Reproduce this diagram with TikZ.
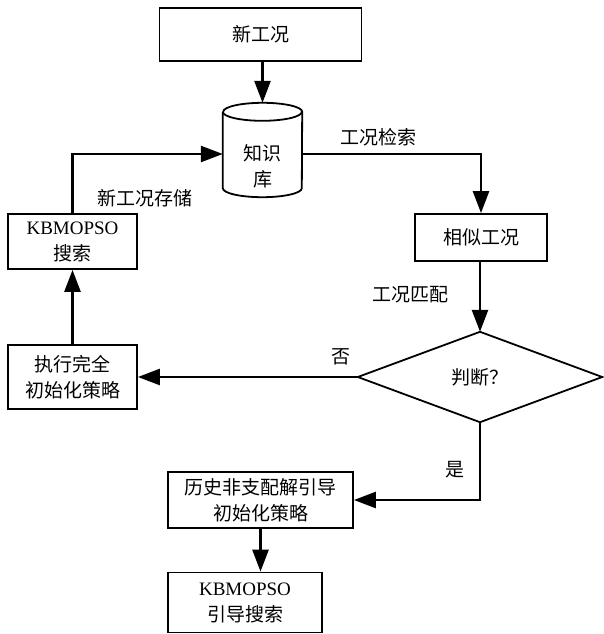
\documentclass[tikz,border=0pt]{standalone}
\usepackage{fontspec}
\setmainfont{Liberation Serif}
\newfontfamily\cjk{Noto Sans CJK SC}
\newfontfamily\latinf{Liberation Serif}
\usetikzlibrary{arrows.meta}
\begin{document}
\begin{tikzpicture}[x=1pt,y=-1pt,
  txt/.style={font=\fontsize{19}{26}\selectfont\cjk, inner sep=0pt, align=center},
  boxn/.style={txt, draw, line width=1.8pt, rectangle},
  ghost/.style={rectangle, inner sep=0pt},
  arr/.style={line width=2.6pt, -{Triangle[length=22pt,width=16pt]}},
  ln/.style={line width=2.6pt}]
\useasboundingbox (0,0) rectangle (603,634);
\fill[white] (0,0) rectangle (603,634);

\node[boxn, minimum width=202pt, minimum height=53pt] (new) at (260.5,34.5) {新工况};
\node[ghost, minimum width=79pt, minimum height=94pt] (kb) at (262.5,150) {};
\node[txt] (kbt) at (262.5,166) {知识\\库};
\draw[line width=1.8pt] ([yshift=-9pt]kb.north west) -- ([yshift=9pt]kb.south west)
  arc[start angle=180, end angle=360, x radius=39.5pt, y radius=9pt]
  -- ([yshift=-9pt]kb.north east)
  arc[start angle=0, end angle=180, x radius=39.5pt, y radius=9pt];
\draw[line width=1.8pt] ([yshift=-9pt]kb.north west)
  arc[start angle=180, end angle=360, x radius=39.5pt, y radius=9pt];

\node[boxn, minimum width=129pt, minimum height=55pt] (ks) at (72.5,241.5) {{\latinf KBMOPSO}\\搜索};
\node[boxn, minimum width=129pt, minimum height=64pt] (exec) at (72.5,377) {执行完全\\初始化策略};
\node[boxn, minimum width=132pt, minimum height=47pt] (sim) at (481,237.5) {相似工况};
\node[ghost, txt, minimum width=244pt, minimum height=90pt] (dec) at (480,377) {判断？};
\draw[line width=1.8pt] (dec.north) -- (dec.east) -- (dec.south) -- (dec.west) -- cycle;
\node[boxn, minimum width=185pt, minimum height=56pt] (hist) at (260.5,500) {历史非支配解引导\\初始化策略};
\node[boxn, minimum width=154pt, minimum height=60pt] (guided) at (245,602.5) {{\latinf KBMOPSO}\\引导搜索};

\node[txt] (l1) at (378,137) {工况检索};
\node[txt] (l2) at (145,198) {新工况存储};
\node[txt] (l3) at (410,295) {工况匹配};
\node[txt] (l4) at (341,357) {否};
\node[txt] (l5) at (455,470) {是};

\draw[arr] (new.south -| kb.north) -- (kb.north);
\draw[arr] (ks.north) |- ([yshift=-4pt]kb.west);
\draw[arr] ([yshift=-4pt]kb.east) -| (sim.north);
\draw[arr] (sim.south -| dec.north) -- (dec.north);
\draw[arr] (dec.west) -- (exec.east);
\draw[arr] (exec.north) -- (ks.south);
\draw[arr] (dec.south) |- (hist.east);
\draw[arr] (hist.south) -- (hist.south |- guided.north);
\end{tikzpicture}
\end{document}
